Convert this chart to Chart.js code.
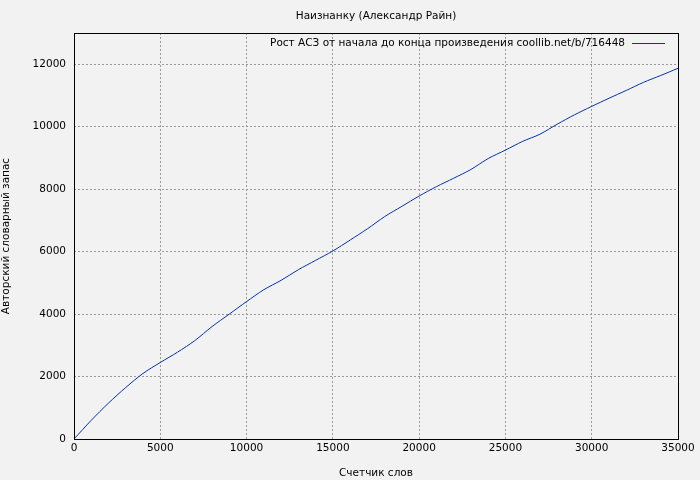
<!DOCTYPE html>
<html>
<head>
<meta charset="utf-8">
<script src="https://cdn.jsdelivr.net/npm/chart.js@4/dist/chart.umd.min.js"></script>
<style>
  body { margin: 0; background: #f2f2f2; }
  #wrap { width: 700px; height: 480px; }
</style>
</head>
<body>
<div id="wrap"><canvas id="chart"></canvas></div>
<script>
const chartTitle = 'Наизнанку (Александр Райн)';
const legendLabel = 'Рост АСЗ от начала до конца произведения coollib.net/b/716448';
const xTitle = 'Счетчик слов';
const yTitle = 'Авторский словарный запас';

const xTicks = [0, 5000, 10000, 15000, 20000, 25000, 30000, 35000];
const yTicks = [0, 2000, 4000, 6000, 8000, 10000, 12000];

// words counted vs. distinct words
const words = [0, 500, 1000, 2000, 3000, 4000, 5000, 6000, 7000, 8000, 9000, 10000, 11000, 12000,
  13000, 14000, 15000, 16000, 17000, 18000, 19000, 20000, 21000, 22000, 23000, 24000, 25000,
  26000, 27000, 28000, 29000, 30000, 31000, 32000, 33000, 34000, 35000];
const vocab = [0, 300, 600, 1150, 1650, 2100, 2450, 2780, 3150, 3600, 4000, 4400, 4780, 5080,
  5420, 5720, 6020, 6370, 6730, 7120, 7450, 7780, 8080, 8350, 8630, 8980, 9250,
  9530, 9760, 10080, 10380, 10650, 10910, 11160, 11420, 11640, 11870];

const points = words.map((w, i) => ({ x: w, y: vocab[i] }));
const font = { family: 'DejaVu Sans', size: 10.5 };

const overlay = {
  id: 'overlay',
  afterDraw(chart) {
    const { ctx, chartArea: a } = chart;
    ctx.save();
    ctx.strokeStyle = '#000';
    ctx.lineWidth = 1;
    ctx.strokeRect(a.left + 0.5, a.top + 0.5, a.right - a.left, a.bottom - a.top);
    ctx.fillStyle = '#000';
    ctx.font = '10.5px "DejaVu Sans"';
    ctx.textAlign = 'center';
    ctx.textBaseline = 'middle';
    ctx.fillText(chartTitle, 376, 16);
    ctx.textAlign = 'right';
    ctx.fillText(legendLabel, 625, 43);
    ctx.strokeStyle = '#0033aa';
    ctx.beginPath();
    ctx.moveTo(632, 43.5);
    ctx.lineTo(665, 43.5);
    ctx.stroke();
    ctx.restore();
  }
};

new Chart(document.getElementById('chart'), {
  type: 'line',
  data: {
    datasets: [{
      label: legendLabel,
      data: points,
      borderColor: '#0033aa',
      borderWidth: 1,
      pointRadius: 0,
      tension: 0.3,
      fill: false
    }]
  },
  options: {
    responsive: true,
    maintainAspectRatio: false,
    animation: false,
    layout: { padding: { top: 33, right: 22, left: 0, bottom: 0 } },
    plugins: { legend: { display: false }, title: { display: false }, tooltip: { enabled: false } },
    scales: {
      x: {
        type: 'linear', min: 0, max: 35000,
        afterBuildTicks(s) { s.ticks = xTicks.map(v => ({ value: v })); },
        ticks: { color: '#000', font, maxRotation: 0, autoSkip: false, padding: 3,
          callback: v => String(v) },
        grid: { color: '#999', drawTicks: false },
        border: { display: false, dash: [2, 2] },
        title: { display: true, text: xTitle, color: '#000', font, padding: { top: 2, bottom: 0 } },
        afterFit(s) { s.height = 41; }
      },
      y: {
        min: 0, max: 13000,
        afterBuildTicks(s) { s.ticks = yTicks.map(v => ({ value: v })); },
        ticks: { color: '#000', font, padding: 8, autoSkip: false, callback: v => String(v) },
        grid: { color: '#999', drawTicks: false },
        border: { display: false, dash: [2, 2] },
        title: { display: true, text: yTitle, color: '#000', font, padding: { top: 0, bottom: 10 } },
        afterFit(s) { s.width = 74; }
      }
    }
  },
  plugins: [overlay]
});
</script>
</body>
</html>
